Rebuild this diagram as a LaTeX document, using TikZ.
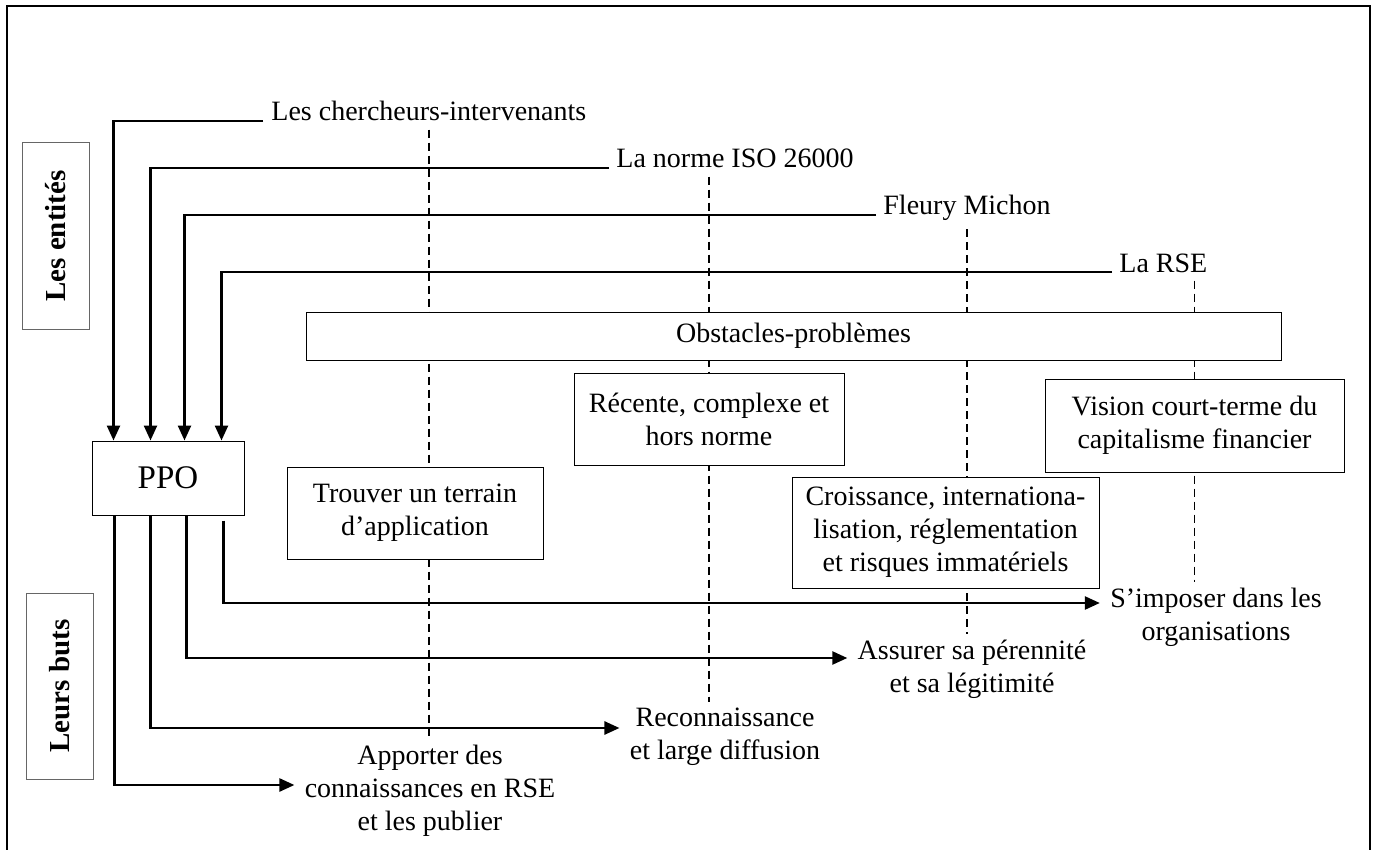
\documentclass[tikz,border=0pt]{standalone}
\usepackage{fontspec}
\setmainfont{Liberation Serif}
\usetikzlibrary{positioning, arrows.meta, calc, backgrounds}

\begin{document}
\begin{tikzpicture}[
    % GLOBAL CFG
    x=0.5pt, y=-0.5pt,
    font=\fontsize{14}{16.5}\selectfont,
    >={Triangle[length=7.5pt,width=6.5pt]},
    % Styles
    frame/.style={% outer frame
        line width=1.25pt,
        },
    side/.style={% For the vertical titles
        rectangle,
        draw=black!60,
        line width=.5pt,
        rotate=90,
        minimum width=93pt,
        minimum height=33.5pt,
        font=\fontsize{14.5}{17}\selectfont\bfseries,
        },
    ppobox/.style={% For the central box
        rectangle,
        draw,
        line width=.5pt,
        minimum width=76pt,
        minimum height=37pt,
        font=\fontsize{16.5}{19}\selectfont,
        },
    obst/.style={% For the obstacles
        rectangle,
        draw,
        fill=white,
        line width=.5pt,
        align=center,
        },
    entity/.style={% For the entities
        anchor=base west,
        inner sep=0pt,
        },
    goal/.style={% For the goals
        anchor=north,
        align=center,
        inner sep=0pt,
        },
    link/.style={% Arrows
        line width=1.25pt,
        },
    guide/.style={% Dashed lines
        dash pattern=on 4pt off 2.5pt,
        line width=.8pt,
        }
    ]

    \useasboundingbox (0,0) rectangle (1375,850);
    % Frame, open at the bottom
    \draw [frame] (7,850) -- (7,6) -- (1370,6) -- (1370,850);

    % Titles
    \node [side] (ents) at (55.5,236) {Les entités};
    \node [side] (buts) at (59.5,686) {Leurs buts};

    % Central box
    \node [ppobox] (ppo) at (168,478) {PPO};

    % Entities named e#
    \node [entity] (e1) at (271,121) {Les chercheurs-intervenants};
    \node [entity] (e2) at (616,168) {La norme ISO 26000};
    \node [entity] (e3) at (883,215) {Fleury Michon};
    \node [entity] (e4) at (1119,272) {La RSE};

    % Obstacles named ob#
    \node [obst, minimum width=487.5pt, minimum height=24pt] (obs) at (793.5,336) {Obstacles-problèmes};
    \node [obst, minimum width=128pt, minimum height=46pt] (ob1) at (415,513) {Trouver un terrain\\d’application};
    \node [obst, minimum width=135pt, minimum height=46pt] (ob2) at (709,419) {Récente, complexe et\\hors norme};
    \node [obst, minimum width=153.5pt, minimum height=55.5pt] (ob3) at (945.5,532.5) {Croissance, internationa-\\lisation, réglementation\\et risques immatériels};
    \node [obst, minimum width=149.5pt, minimum height=46.5pt] (ob4) at (1194.5,425.5) {Vision court-terme du\\capitalisme financier};

    % Goals named g#
    \node [goal] (g1) at (430,745) {Apporter des\\connaissances en RSE\\et les publier};
    \node [goal] (g2) at (725,708) {Reconnaissance\\et large diffusion};
    \node [goal] (g3) at (972,640) {Assurer sa pérennité\\et sa légitimité};
    \node [goal] (g4) at (1216,588) {S’imposer dans les\\organisations};

    % Dashed guides behind the boxes
    \begin{scope}[on background layer]
    \draw [guide, shorten <=4pt, shorten >=3pt] (e1.south) -- (e1.south |- g1.north);
    \draw [guide, shorten <=4pt, shorten >=3pt] (ob2.center |- e2.south) -- (ob2.center |- g2.north);
    \draw [guide, shorten <=4pt, shorten >=3pt] (e3.south) -- (e3.south |- g3.north);
    \draw [guide, shorten <=4pt, shorten >=3pt] (ob4.center |- e4.south) -- (ob4.center |- g4.north);
    \end{scope}

    % Entities to PPO
    \draw [link, ->] ($(e1.base west)+(-8,0)$) -| ($(ppo.north west)+(22,0)$);
    \draw [link, ->] ($(e2.base west)+(-7,0)$) -| ($(ppo.north west)+(59,0)$);
    \draw [link, ->] ($(e3.base west)+(-7,0)$) -| ($(ppo.north west)+(93,0)$);
    \draw [link, ->] ($(e4.base west)+(-7,0)$) -| ($(ppo.north west)+(130,0)$);

    % PPO to goals
    \draw [link, ->] ($(ppo.south west)+(23,0)$) |- ($(g1.north west)+(-10,40)$);
    \draw [link, ->] ($(ppo.south west)+(59,0)$) |- ($(g2.north west)+(-10,20)$);
    \draw [link, ->] ($(ppo.south west)+(95,0)$) |- ($(g3.north west)+(-10,18)$);
    \draw [link, ->] ($(ppo.south west)+(132,5)$) |- ($(g4.north west)+(-10,15)$);

\end{tikzpicture}
\end{document}
